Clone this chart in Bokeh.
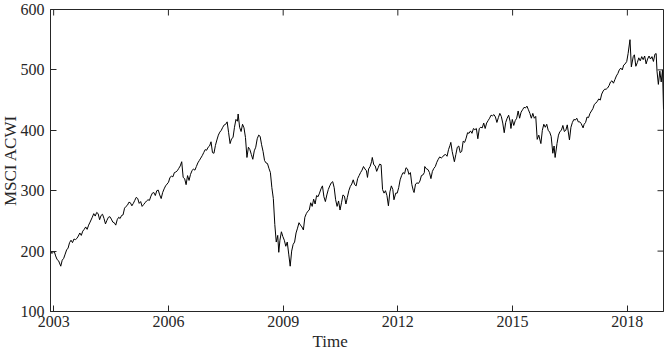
import math
import pandas as pd
from bokeh.plotting import figure
from bokeh.models import Range1d, FixedTicker, DatetimeTickFormatter, ColumnDataSource, Title
from bokeh.embed import file_html
from bokeh.resources import INLINE

dates = [
 "2002-12-02","2002-12-16","2003-01-06","2003-01-20","2003-02-03","2003-02-17","2003-03-10","2003-03-24",
 "2003-04-07","2003-04-21","2003-05-05","2003-05-19","2003-06-02","2003-06-16","2003-06-30","2003-07-14",
 "2003-07-28","2003-08-11","2003-08-25","2003-09-08","2003-09-22","2003-10-06","2003-10-20","2003-11-03",
 "2003-11-17","2003-12-01","2003-12-15","2004-01-05","2004-01-19","2004-02-02","2004-02-16","2004-03-01",
 "2004-03-15","2004-03-29","2004-04-12","2004-04-26","2004-05-10","2004-05-24","2004-06-07","2004-06-21",
 "2004-07-05","2004-07-19","2004-08-02","2004-08-16","2004-08-30","2004-09-13","2004-09-27","2004-10-11",
 "2004-10-25","2004-11-08","2004-11-22","2004-12-06","2004-12-20","2005-01-03","2005-01-17","2005-01-31",
 "2005-02-14","2005-02-28","2005-03-14","2005-03-28","2005-04-11","2005-04-25","2005-05-09","2005-05-23",
 "2005-06-06","2005-06-20","2005-07-04","2005-07-18","2005-08-01","2005-08-15","2005-08-29","2005-09-12",
 "2005-09-26","2005-10-10","2005-10-24","2005-11-07","2005-11-21","2005-12-05","2005-12-19","2006-01-02",
 "2006-01-16","2006-01-30","2006-02-13","2006-02-27","2006-03-13","2006-03-27","2006-04-10","2006-04-24",
 "2006-05-08","2006-05-22","2006-06-05","2006-06-19","2006-07-03","2006-07-17","2006-07-31","2006-08-14",
 "2006-08-28","2006-09-11","2006-09-25","2006-10-09","2006-10-23","2006-11-06","2006-11-20","2006-12-04",
 "2006-12-18","2007-01-01","2007-01-15","2007-01-29","2007-02-12","2007-02-26","2007-03-12","2007-03-26",
 "2007-04-09","2007-04-23","2007-05-07","2007-05-21","2007-06-04","2007-06-18","2007-07-02","2007-07-16",
 "2007-07-30","2007-08-13","2007-08-27","2007-09-10","2007-09-24","2007-10-08","2007-10-22","2007-10-29",
 "2007-11-12","2007-11-26","2007-12-10","2007-12-24","2008-01-07","2008-01-21","2008-02-04","2008-02-18",
 "2008-03-03","2008-03-17","2008-03-31","2008-04-14","2008-04-28","2008-05-12","2008-05-26","2008-06-09",
 "2008-06-23","2008-07-07","2008-07-21","2008-08-04","2008-08-18","2008-09-01","2008-09-15","2008-09-29",
 "2008-10-13","2008-10-27","2008-11-10","2008-11-20","2008-12-01","2008-12-15","2008-12-29","2009-01-12",
 "2009-01-26","2009-02-09","2009-02-23","2009-03-09","2009-03-23","2009-04-06","2009-04-20","2009-05-04",
 "2009-05-18","2009-06-01","2009-06-15","2009-06-29","2009-07-13","2009-07-27","2009-08-10","2009-08-24",
 "2009-09-07","2009-09-21","2009-10-05","2009-10-19","2009-11-02","2009-11-16","2009-11-30","2009-12-14",
 "2009-12-28","2010-01-11","2010-01-25","2010-02-08","2010-02-22","2010-03-08","2010-03-22","2010-04-05",
 "2010-04-19","2010-05-03","2010-05-17","2010-05-31","2010-06-14","2010-06-28","2010-07-12","2010-07-26",
 "2010-08-09","2010-08-23","2010-09-06","2010-09-20","2010-10-04","2010-10-18","2010-11-01","2010-11-15",
 "2010-11-29","2010-12-13","2010-12-27","2011-01-10","2011-01-24","2011-02-07","2011-02-21","2011-03-07",
 "2011-03-17","2011-03-28","2011-04-11","2011-04-25","2011-05-02","2011-05-16","2011-05-30","2011-06-13",
 "2011-06-27","2011-07-11","2011-07-25","2011-08-08","2011-08-22","2011-09-05","2011-09-19","2011-10-03",
 "2011-10-17","2011-10-31","2011-11-14","2011-11-25","2011-12-12","2011-12-26","2012-01-09","2012-01-23",
 "2012-02-06","2012-02-20","2012-03-05","2012-03-19","2012-04-02","2012-04-16","2012-04-30","2012-05-14",
 "2012-05-28","2012-06-04","2012-06-18","2012-07-02","2012-07-16","2012-07-30","2012-08-13","2012-08-27",
 "2012-09-10","2012-09-14","2012-10-01","2012-10-15","2012-10-29","2012-11-12","2012-11-26","2012-12-10",
 "2012-12-24","2013-01-07","2013-01-21","2013-02-04","2013-02-18","2013-03-04","2013-03-18","2013-04-01",
 "2013-04-15","2013-04-29","2013-05-13","2013-05-21","2013-06-03","2013-06-24","2013-07-08","2013-07-22",
 "2013-08-05","2013-08-19","2013-09-02","2013-09-16","2013-09-30","2013-10-14","2013-10-28","2013-11-11",
 "2013-11-25","2013-12-09","2013-12-23","2014-01-06","2014-01-20","2014-02-03","2014-02-17","2014-03-03",
 "2014-03-17","2014-03-31","2014-04-14","2014-04-28","2014-05-12","2014-05-26","2014-06-09","2014-06-23",
 "2014-07-07","2014-07-21","2014-08-04","2014-08-18","2014-09-01","2014-09-15","2014-09-29","2014-10-13",
 "2014-10-27","2014-11-10","2014-11-24","2014-12-08","2014-12-16","2014-12-29","2015-01-12","2015-01-26",
 "2015-02-09","2015-02-23","2015-03-09","2015-03-23","2015-04-06","2015-04-20","2015-05-04","2015-05-18",
 "2015-06-01","2015-06-15","2015-06-29","2015-07-13","2015-07-27","2015-08-10","2015-08-24","2015-09-08",
 "2015-09-28","2015-10-12","2015-10-26","2015-11-09","2015-11-23","2015-12-07","2015-12-21","2016-01-04",
 "2016-01-20","2016-02-01","2016-02-11","2016-02-29","2016-03-14","2016-03-28","2016-04-11","2016-04-25",
 "2016-05-09","2016-05-23","2016-06-06","2016-06-27","2016-07-11","2016-07-25","2016-08-08","2016-08-22",
 "2016-09-05","2016-09-19","2016-10-03","2016-10-17","2016-11-04","2016-11-14","2016-11-28","2016-12-12",
 "2016-12-26","2017-01-09","2017-01-23","2017-02-06","2017-02-20","2017-03-06","2017-03-20","2017-04-03",
 "2017-04-17","2017-05-01","2017-05-15","2017-05-29","2017-06-12","2017-06-26","2017-07-10","2017-07-24",
 "2017-08-07","2017-08-21","2017-09-04","2017-09-18","2017-10-02","2017-10-16","2017-10-30","2017-11-13",
 "2017-11-27","2017-12-11","2017-12-26","2018-01-08","2018-01-26","2018-02-08","2018-02-26","2018-03-09",
 "2018-03-23","2018-04-06","2018-04-20","2018-05-04","2018-05-18","2018-06-01","2018-06-15","2018-06-29",
 "2018-07-13","2018-07-27","2018-08-10","2018-08-24","2018-09-07","2018-09-21","2018-10-03","2018-10-11",
 "2018-10-24","2018-11-07","2018-11-20","2018-12-03","2018-12-12",
]

msci_acwi = [
 200,196,200,192,186,184,175,185,
 188,195,202,205,214,218,214,220,
 219,221,225,230,226,233,236,240,
 236,243,248,256,262,258,264,262,
 252,259,261,254,245,251,256,257,
 253,248,247,243,252,256,254,259,
 260,271,274,276,281,280,275,279,
 284,289,287,279,282,274,277,280,
 283,285,284,291,296,297,292,300,
 301,293,287,297,303,308,311,314,
 322,324,323,330,331,333,337,341,
 348,322,320,310,325,317,327,333,
 336,334,340,346,350,354,358,363,
 368,367,372,374,381,363,362,375,
 384,392,397,400,405,409,410,414,
 396,378,386,388,405,418,415,427,
 405,398,410,404,388,355,372,368,
 360,352,366,372,386,392,390,376,
 365,350,346,345,337,330,305,287,
 244,215,226,198,218,232,224,218,
 208,215,195,175,200,211,215,230,
 238,247,243,240,235,256,262,266,
 268,280,274,286,278,292,290,296,
 303,308,290,282,293,302,308,313,
 315,305,285,274,283,268,280,293,
 291,278,289,300,307,311,318,310,
 308,320,325,330,334,340,336,333,
 322,336,340,348,355,343,341,332,
 338,344,343,302,296,300,292,275,
 298,308,302,285,296,296,305,318,
 325,330,328,338,336,327,330,310,
 300,297,311,313,312,316,325,326,
 330,340,336,335,330,320,332,337,
 340,347,352,356,354,356,359,360,
 357,368,375,380,365,348,360,372,
 374,363,365,382,380,387,396,395,
 399,395,403,401,403,386,403,405,
 404,412,403,412,416,420,425,424,
 426,422,413,421,428,423,412,396,
 413,420,425,415,403,418,408,416,
 420,432,420,430,434,438,437,440,
 434,428,420,428,420,423,385,392,
 378,400,410,405,410,400,397,390,
 362,374,355,378,392,398,400,408,
 398,400,409,384,405,413,418,417,
 420,414,414,411,404,410,413,422,
 421,428,432,436,443,445,448,452,
 450,460,465,468,468,470,474,480,
 482,478,484,490,494,500,503,500,
 508,510,514,527,550,505,522,525,
 506,512,520,515,522,517,523,510,
 518,523,518,522,514,526,527,498,
 476,498,480,500,435,
]

x_tick_years = [2003, 2006, 2009, 2012, 2015, 2018]
y_ticks = [100, 200, 300, 400, 500, 600]
x_start = "2002-12-02"
x_end = "2018-12-12"
y_min, y_max = 100, 600
x_title = "Time"
y_title = "MSCI ACWI"

src = ColumnDataSource(dict(t=pd.to_datetime(dates), v=msci_acwi))
xt = [pd.Timestamp(f"{y}-01-01").value // 10**6 for y in x_tick_years]
x0 = pd.Timestamp(x_start)
x1 = pd.Timestamp(x_end)

FONT = "Liberation Serif"
INK = "#262626"

p = figure(width=664, height=352, x_axis_type="datetime",
           x_range=Range1d(x0, x1), y_range=Range1d(y_min, y_max),
           output_backend="svg", toolbar_location=None,
           min_border_left=50, min_border_right=1,
           min_border_top=9, min_border_bottom=41)
p.background_fill_color = "white"
p.border_fill_color = "white"
p.outline_line_color = INK
p.outline_line_width = 1
p.grid.visible = False

p.line("t", "v", source=src, line_color="black", line_width=1.0)

p.xaxis.ticker = FixedTicker(ticks=xt)
p.xaxis.formatter = DatetimeTickFormatter(years="%Y", months="%Y", days="%Y")
p.yaxis.ticker = FixedTicker(ticks=y_ticks)

for ax in (p.xaxis[0], p.yaxis[0]):
    ax.axis_line_color = INK
    ax.major_tick_line_color = INK
    ax.major_tick_in = 6
    ax.major_tick_out = 0
    ax.minor_tick_line_color = None
    ax.major_label_text_font = FONT
    ax.major_label_text_font_size = "16px"
    ax.major_label_text_color = INK
p.xaxis.major_label_standoff = 4
p.yaxis.major_label_standoff = 6

# mirrored tick marks on the top and right edges of the box
p.ray(x=xt, y=[y_max] * len(xt), length=6, length_units="screen",
      angle=-math.pi / 2, line_color=INK, line_width=1)
p.ray(x=[x1] * len(y_ticks), y=y_ticks, length=6, length_units="screen",
      angle=math.pi, line_color=INK, line_width=1)

# axis titles
p.add_layout(Title(text=x_title, align="left", offset=262, standoff=0,
                   text_font=FONT, text_font_size="17px", text_font_style="normal",
                   text_color=INK), "below")
p.add_layout(Title(text=y_title, align="center", standoff=-5,
                   text_font=FONT, text_font_size="17px", text_font_style="normal",
                   text_color=INK), "left")

open("out.html", "w").write(file_html(p, INLINE))
